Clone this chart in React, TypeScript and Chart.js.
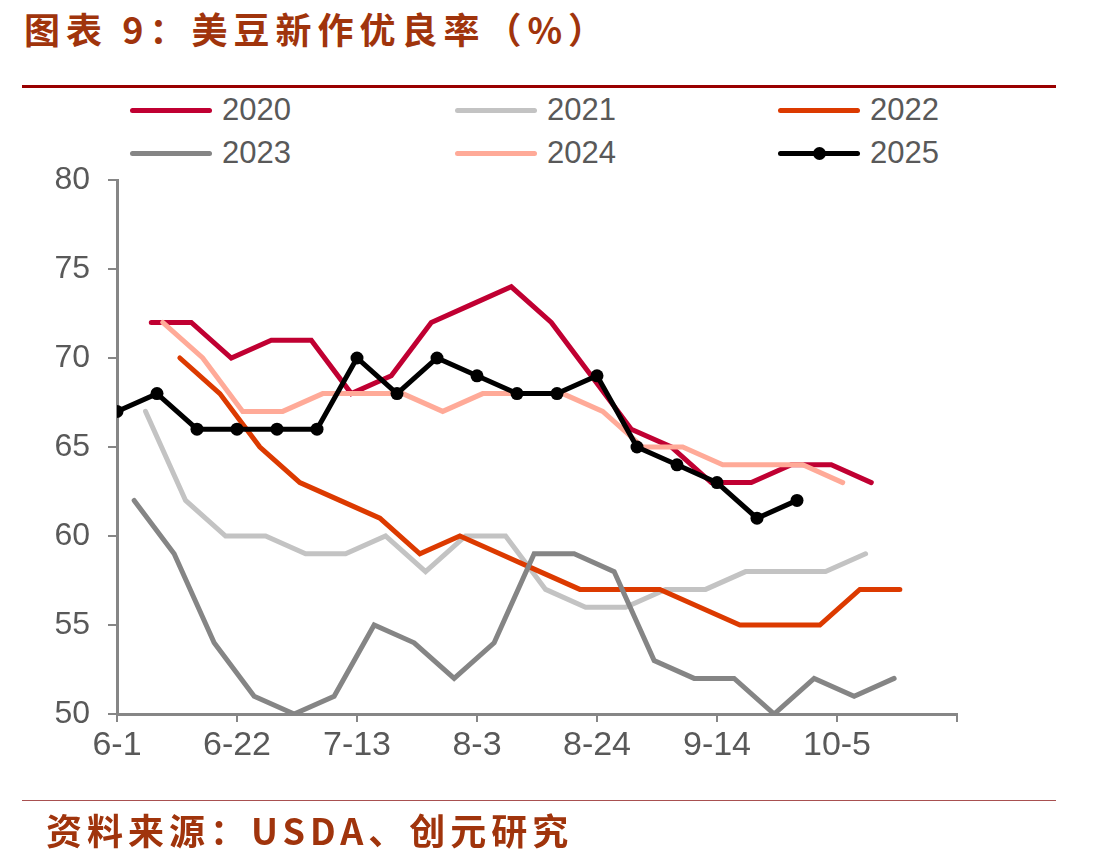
import { useEffect, useRef } from "react";
import { Chart, registerables } from "chart.js";

Chart.register(...registerables);

// Axis labels
const xTickLabels = ["6-1", "6-22", "7-13", "8-3", "8-24", "9-14", "10-5", ""];
const yMin = 50;
const yMax = 80;
const yStep = 5;

// Series: year, date of first weekly report, good/excellent ratings (%)
const seriesNames = ["2020", "2021", "2022", "2023", "2024", "2025"];
const firstReport = ["6-7", "6-6", "6-12", "6-4", "6-9", "6-1"];

const values2020 = [72, 72, 70, 71, 71, 68, 69, 72, 73, 74, 72, 69, 66, 65, 63, 63, 64, 64, 63];
const values2021 = [67, 62, 60, 60, 59, 59, 60, 58, 60, 60, 57, 56, 56, 57, 57, 58, 58, 58, 59];
const values2022 = [70, 68, 65, 63, 62, 61, 59, 60, 59, 58, 57, 57, 57, 56, 55, 55, 55, 57, 57];
const values2023 = [62, 59, 54, 51, 50, 51, 55, 54, 52, 54, 59, 59, 58, 53, 52, 52, 50, 52, 51, 52];
const values2024 = [72, 70, 67, 67, 68, 68, 68, 67, 68, 68, 68, 67, 65, 65, 64, 64, 64, 63];
const values2025 = [67, 68, 66, 66, 66, 66, 70, 68, 70, 69, 68, 68, 69, 65, 64, 63, 61, 62];

const seriesValues = [values2020, values2021, values2022, values2023, values2024, values2025];
const seriesColors = ["#C00032", "#C3C3C3", "#DC3A00", "#858585", "#FFAA98", "#000000"];

const monthOffset: Record<number, number> = { 6: 0, 7: 30, 8: 61, 9: 92, 10: 122 };
const dayOfSeason = (md: string) => {
  const [m, d] = md.split("-").map(Number);
  return monthOffset[m] + d - 1;
};

const TITLE_COLOR = "#A0340C";
const TEXT_GRAY = "#595959";
const AXIS_GRAY = "#868686";
const FONT = "'Liberation Sans', Arial, sans-serif";
const CJK = "'Noto Sans CJK SC', 'Noto Sans', sans-serif";

const legendCols = [130, 455, 778];
const legendRows = [110, 153];

export default function App() {
  const canvasRef = useRef<HTMLCanvasElement | null>(null);

  useEffect(() => {
    const canvas = canvasRef.current;
    if (!canvas) return;

    const datasets = seriesNames.map((name, si) => {
      const start = dayOfSeason(firstReport[si]);
      const isLatest = si === seriesNames.length - 1;
      return {
        label: name,
        data: seriesValues[si].map((v, i) => ({ x: start + 7 * i, y: v })),
        borderColor: seriesColors[si],
        backgroundColor: seriesColors[si],
        borderWidth: 5,
        borderCapStyle: "round" as const,
        pointRadius: isLatest ? 6.5 : 0,
        pointHoverRadius: isLatest ? 6.5 : 0,
        pointBorderWidth: 0,
        tension: 0,
        fill: false,
        order: seriesNames.length - 1 - si,
      };
    });

    const chart = new Chart(canvas, {
      type: "line",
      data: { datasets },
      options: {
        animation: false,
        responsive: false,
        maintainAspectRatio: false,
        layout: { padding: { top: 180, left: 0, right: 147, bottom: 92 } },
        plugins: {
          legend: { display: false },
          tooltip: { enabled: false },
        },
        scales: {
          x: {
            type: "linear",
            min: 0,
            max: 147,
            afterFit: (scale: any) => {
              scale.height = 60;
            },
            border: { display: true, color: AXIS_GRAY, width: 3 },
            grid: {
              drawOnChartArea: false,
              drawTicks: true,
              tickLength: 8,
              color: AXIS_GRAY,
              lineWidth: 2,
            },
            ticks: {
              stepSize: 21,
              autoSkip: false,
              maxRotation: 0,
              padding: 3,
              color: TEXT_GRAY,
              font: { family: FONT, size: 34 },
              callback: (v: any) => {
                const n = Number(v);
                if (n % 21 !== 0) return "";
                return xTickLabels[Math.round(n / 21)] ?? "";
              },
            },
          },
          y: {
            min: yMin,
            max: yMax,
            afterFit: (scale: any) => {
              scale.width = 117;
            },
            border: { display: true, color: AXIS_GRAY, width: 3 },
            grid: {
              drawOnChartArea: false,
              drawTicks: true,
              tickLength: 9,
              color: AXIS_GRAY,
              lineWidth: 2,
            },
            ticks: {
              stepSize: yStep,
              padding: 18,
              color: TEXT_GRAY,
              font: { family: FONT, size: 32 },
            },
          },
        },
      },
    });

    return () => chart.destroy();
  }, []);

  return (
    <div style={{ position: "absolute", left: 0, top: 0, width: 1104, height: 866, background: "#fff", overflow: "hidden" }}>
      <div
        style={{
          position: "absolute",
          left: 24,
          top: 4,
          fontFamily: CJK,
          fontWeight: 700,
          fontSize: 36,
          letterSpacing: 6,
          color: TITLE_COLOR,
          whiteSpace: "nowrap",
          lineHeight: "48px",
        }}
      >
        图表 9：美豆新作优良率（%）
      </div>
      <div style={{ position: "absolute", left: 22, top: 85, width: 1034, height: 3, background: "#990000" }} />

      {seriesNames.map((name, si) => {
        const left = legendCols[si % 3];
        const cy = legendRows[Math.floor(si / 3)];
        const isLatest = si === seriesNames.length - 1;
        return (
          <div key={name}>
            <div
              style={{
                position: "absolute",
                left,
                top: cy - 2.5,
                width: 82,
                height: 5,
                borderRadius: 3,
                background: seriesColors[si],
              }}
            />
            {isLatest && (
              <div
                style={{
                  position: "absolute",
                  left: left + 41 - 6.5,
                  top: cy - 6.5,
                  width: 13,
                  height: 13,
                  borderRadius: "50%",
                  background: seriesColors[si],
                }}
              />
            )}
            <div
              style={{
                position: "absolute",
                left: left + 92,
                top: cy - 20,
                height: 40,
                lineHeight: "40px",
                fontFamily: FONT,
                fontSize: 31,
                color: TEXT_GRAY,
                whiteSpace: "nowrap",
              }}
            >
              {name}
            </div>
          </div>
        );
      })}

      <canvas ref={canvasRef} width={1104} height={866} style={{ position: "absolute", left: 0, top: 0, width: 1104, height: 866 }} />

      <div style={{ position: "absolute", left: 22, top: 800, width: 1034, height: 1, background: "#A85050" }} />
      <div
        style={{
          position: "absolute",
          left: 46,
          top: 803,
          fontFamily: CJK,
          fontWeight: 700,
          fontSize: 36,
          letterSpacing: 5,
          color: TITLE_COLOR,
          whiteSpace: "nowrap",
          lineHeight: "52px",
        }}
      >
        资料来源：USDA、创元研究
      </div>
    </div>
  );
}
